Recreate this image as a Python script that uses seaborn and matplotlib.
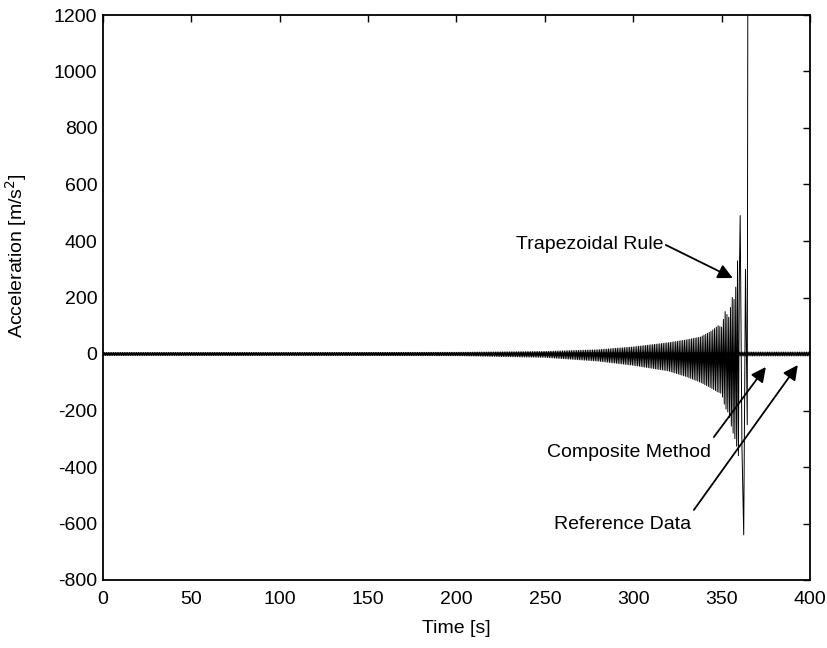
import numpy as np
import pandas as pd
import matplotlib
matplotlib.use("Agg")
import matplotlib.pyplot as plt
import seaborn as sns

# Envelope of the trapezoidal-rule acceleration (peak values, m/s^2)
trap_knot_t = [0, 100, 200, 250, 280, 300, 320, 330, 338, 344, 348, 350,
               352, 354, 356, 357.5, 359, 360]
trap_upper = [5, 5, 6, 9, 15, 25, 40, 50, 60, 80, 100, 95,
              150, 130, 200, 190, 330, 260]
trap_lower = [-5, -5, -6, -12, -25, -40, -60, -80, -100, -120, -135, -140,
              -190, -210, -270, -300, -340, -380]
# Final diverging peaks of the trapezoidal rule
trap_tail_t = [360.5, 361.5, 362.5, 363.5, 364.5, 364.8]
trap_tail_y = [490, -330, -640, 300, -250, 1200]

# Envelopes of the composite method and the reference data
comp_knot_t = [0, 200, 300, 350, 400]
comp_amp = [5, 5, 6, 7, 7]
ref_knot_t = [0, 200, 300, 350, 400]
ref_amp = [3, 3, 4, 4, 4]

sample_step = 0.5


def zigzag(knot_t, upper, lower, t_end, step):
    t = np.arange(0, t_end + 1e-9, step)
    up = np.interp(t, knot_t, upper)
    lo = np.interp(t, knot_t, lower)
    y = np.where(np.arange(len(t)) % 2 == 0, up, lo)
    return t, y


t_tr, y_tr = zigzag(trap_knot_t, trap_upper, trap_lower, 360, sample_step)
t_tr = np.concatenate([t_tr, trap_tail_t])
y_tr = np.concatenate([y_tr, trap_tail_y])
t_co, y_co = zigzag(comp_knot_t, comp_amp, [-a for a in comp_amp], 400, sample_step)
t_re, y_re = zigzag(ref_knot_t, ref_amp, [-a for a in ref_amp], 400, sample_step)
y_re = -y_re

df = pd.concat([
    pd.DataFrame({"t": t_tr, "a": y_tr, "method": "Trapezoidal Rule"}),
    pd.DataFrame({"t": t_co, "a": y_co, "method": "Composite Method"}),
    pd.DataFrame({"t": t_re, "a": y_re, "method": "Reference Data"}),
])

sns.set_theme(style="white")
plt.rcParams["font.family"] = ["Liberation Sans", "DejaVu Sans"]
plt.rcParams["axes.unicode_minus"] = False
plt.rcParams["text.color"] = "black"

FS = 14

fig = plt.figure(figsize=(8.28, 6.48), dpi=100)
ax = fig.add_axes([103 / 828, 68 / 648, 707 / 828, 565 / 648])

sns.lineplot(data=df, x="t", y="a", units="method", estimator=None, sort=False,
             color="black", linewidth=0.7, ax=ax, legend=False)

ax.set_xlim(0, 400)
ax.set_ylim(-800, 1200)
ax.set_xticks(np.arange(0, 401, 50))
ax.set_yticks(np.arange(-800, 1201, 200))
ax.tick_params(direction="in", length=5, width=1, top=True, right=True,
               labelsize=FS, colors="black")
ax.tick_params(axis="x", pad=8)
ax.tick_params(axis="y", pad=4)
for s in ax.spines.values():
    s.set_color("black")
    s.set_linewidth(1.3)
ax.set_xlabel("Time [s]", fontsize=FS, color="black")
ax.set_ylabel("Acceleration [m/s$^2$]", fontsize=FS, color="black")
ax.xaxis.set_label_coords(0.5, -0.071)
ax.yaxis.set_label_coords(-0.104, 0.575)

arrow = dict(arrowstyle="-|>", mutation_scale=22, lw=1.3, color="black",
             shrinkA=0, shrinkB=0)

ax.text(317, 386, "Trapezoidal Rule", ha="right", va="center", fontsize=FS,
        color="black")
ax.annotate("", xy=(356.3, 269), xytext=(318.4, 386), arrowprops=arrow)

ax.text(344, -347, "Composite Method", ha="right", va="center", fontsize=FS,
        color="black")
ax.annotate("", xy=(375, -46), xytext=(345.6, -294), arrowprops=arrow)

ax.text(332.6, -605, "Reference Data", ha="right", va="center", fontsize=FS,
        color="black")
ax.annotate("", xy=(393.1, -39), xytext=(334.3, -552), arrowprops=arrow)

fig.savefig("out.png", dpi=100, facecolor="white")
